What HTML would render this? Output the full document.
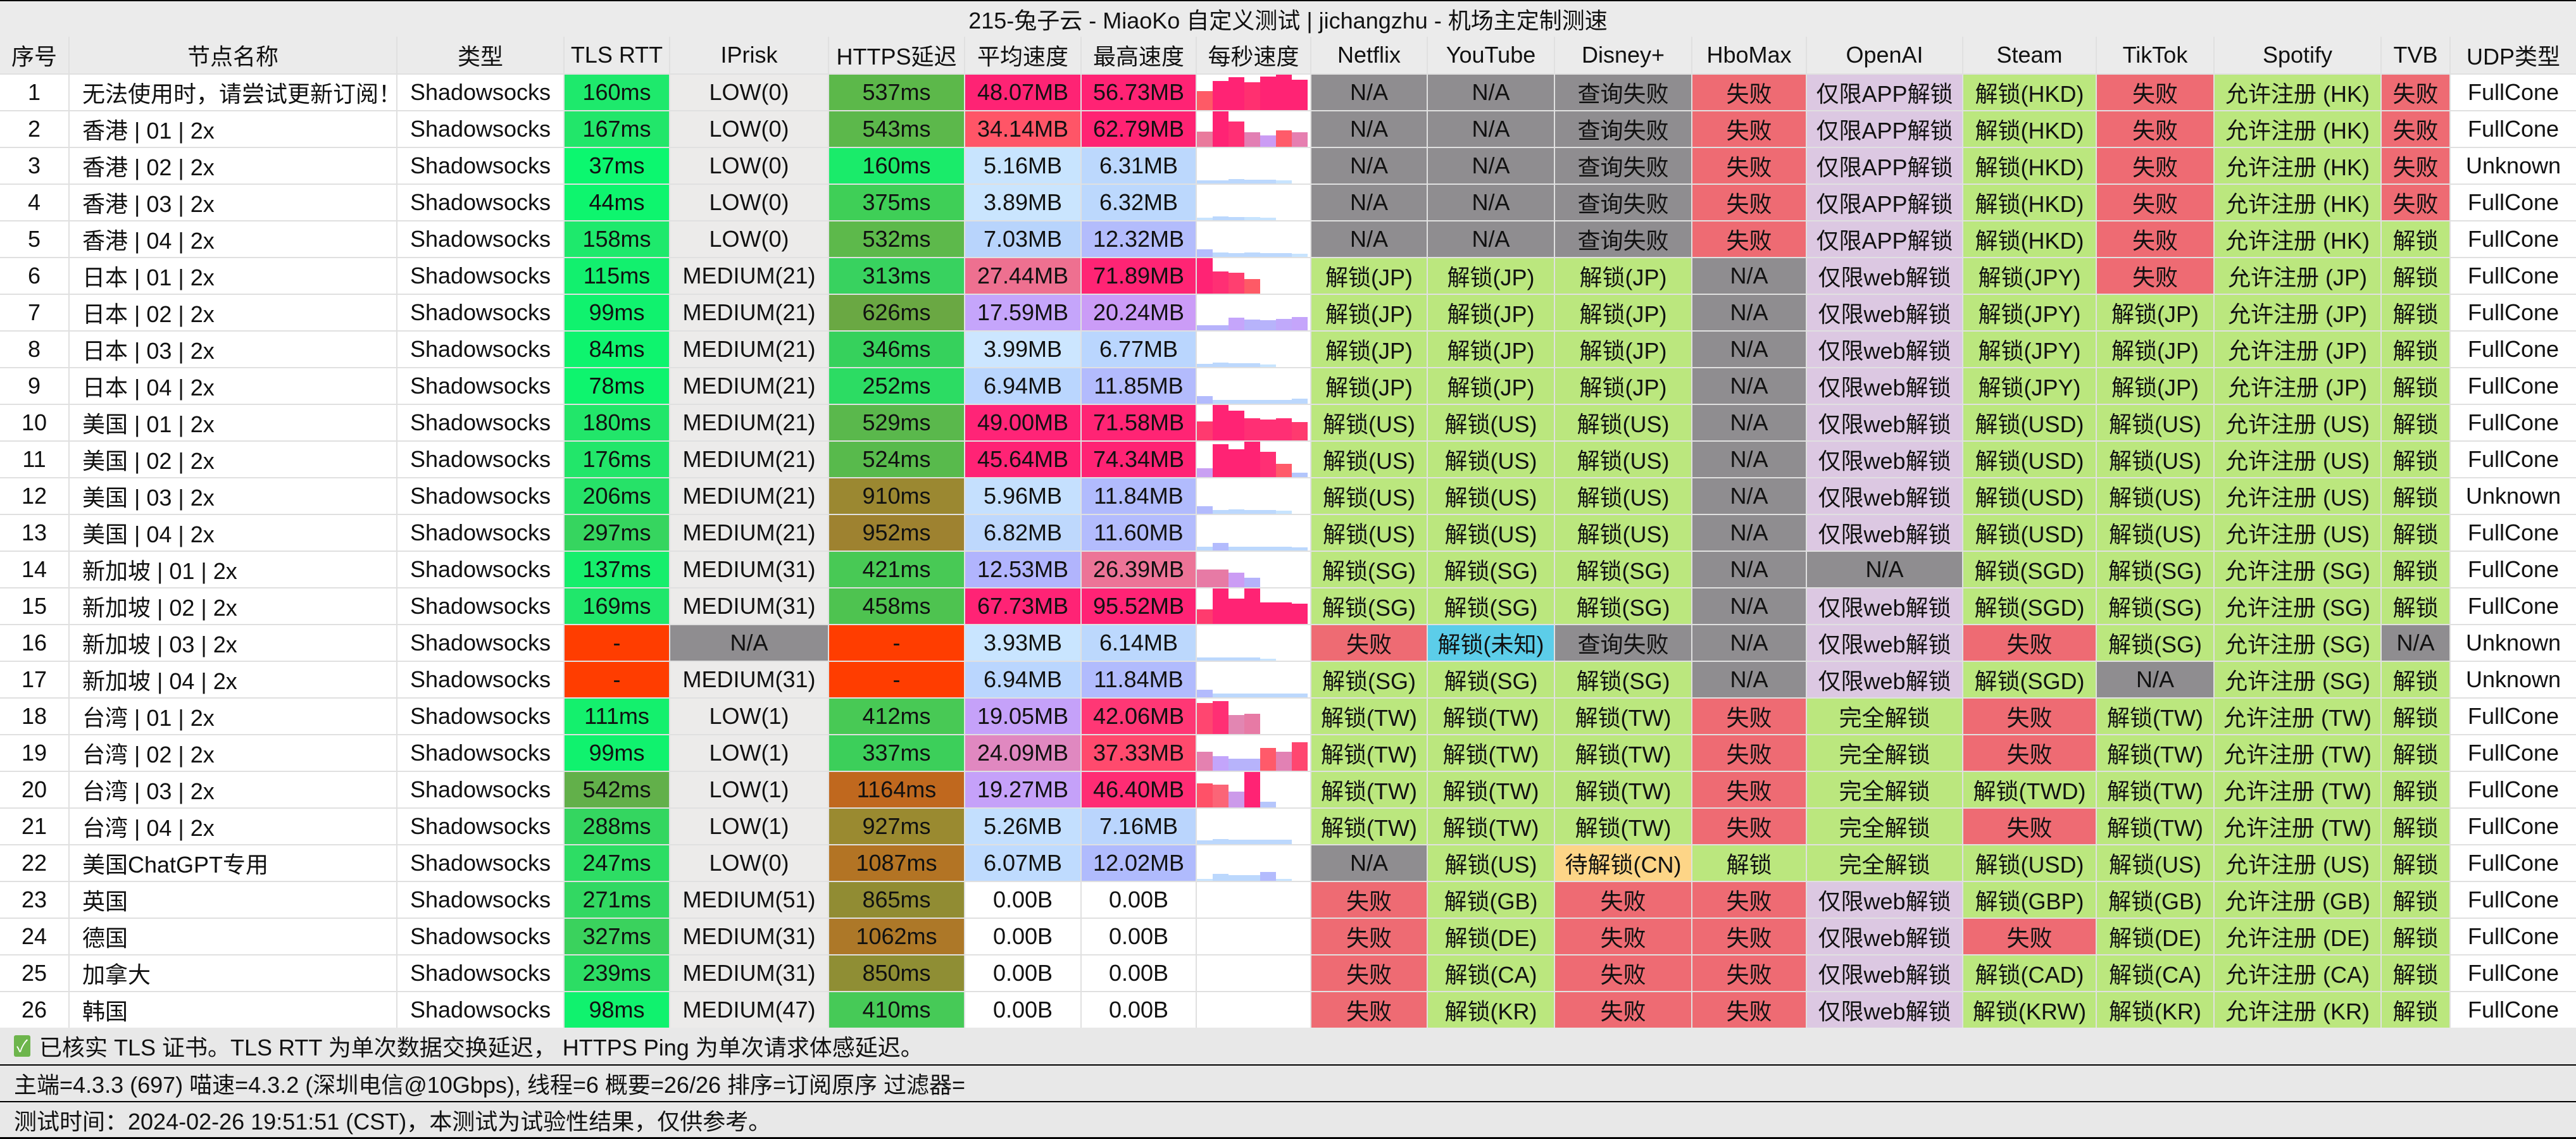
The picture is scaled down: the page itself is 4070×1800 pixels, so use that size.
<!DOCTYPE html>
<html><head><meta charset="utf-8"><style>
*{margin:0;padding:0;box-sizing:border-box}
body{width:4070px;height:1800px;background:#000;position:relative;overflow:hidden;font-family:"Liberation Sans","Noto Sans CJK SC",sans-serif;color:#111;font-size:36px}
.title{position:absolute;left:0;top:2px;width:4070px;height:56px;background:#ebebeb;display:flex;align-items:center;justify-content:center}
.grid{position:absolute;left:0;top:58px;width:4070px;display:grid;grid-template-columns:108px 516px 262px 165px 249px 213px 182px 180px 179px 182px 199px 215px 179px 245px 209px 184px 262px 107px 198px;grid-template-rows:58px repeat(26,56px);gap:2px;background:#e0e0e0}
.grid>div{display:flex;align-items:center;justify-content:center;white-space:nowrap;overflow:hidden;background:#fff;min-width:0}
.grid>div.h{background:#ebebeb}
.grid>div.n{justify-content:flex-start;padding-left:20px}
.grid>div.s{align-items:flex-end;justify-content:flex-start}
.s span{display:block;width:25px;flex:none}
.grid>div.g{background:#8f8d90}.grid>div.r{background:#ee6b73}.grid>div.p{background:#dcc8e2}.grid>div.G{background:#bbe77e}.grid>div.b{background:#5ccde9}.grid>div.y{background:#fdd587}.grid>div.i{background:#ecebea}
.ft{position:absolute;left:0;width:4070px;background:#e8e8e8;display:flex;align-items:center;padding-left:22px}
.ck{display:inline-block;width:26px;height:34px;background:#6db54c;color:#fff;font-size:26px;line-height:34px;text-align:center;border-radius:3px;margin-right:14px}
</style></head><body>
<div class="title">215-兔子云 - MiaoKo 自定义测试 | jichangzhu - 机场主定制测速</div>
<div class="grid">
<div class="h">序号</div><div class="h">节点名称</div><div class="h">类型</div><div class="h">TLS RTT</div><div class="h">IPrisk</div><div class="h">HTTPS延迟</div><div class="h">平均速度</div><div class="h">最高速度</div><div class="h">每秒速度</div><div class="h">Netflix</div><div class="h">YouTube</div><div class="h">Disney+</div><div class="h">HboMax</div><div class="h">OpenAI</div><div class="h">Steam</div><div class="h">TikTok</div><div class="h">Spotify</div><div class="h">TVB</div><div class="h">UDP类型</div>

<div>1</div><div class="n">无法使用时，请尝试更新订阅！</div><div>Shadowsocks</div><div style="background:#1ee96c">160ms</div><div class="i">LOW(0)</div><div style="background:#5cb84a">537ms</div><div style="background:#fe2374">48.07MB</div><div style="background:#ff2374">56.73MB</div>
<div class="s"><span style="height:30px;background:#fe5a66"></span><span style="height:46px;background:#ff2374"></span><span style="height:52px;background:#ff2374"></span><span style="height:44px;background:#ff3070"></span><span style="height:53px;background:#ff2374"></span><span style="height:56px;background:#ff2374"></span><span style="height:48px;background:#ff2374"></span></div>
<div class="g">N/A</div><div class="g">N/A</div><div class="g">查询失败</div><div class="r">失败</div><div class="p">仅限APP解锁</div><div class="G">解锁(HKD)</div><div class="r">失败</div><div class="G">允许注册 (HK)</div><div class="r">失败</div><div>FullCone</div>

<div>2</div><div class="n">香港 | 01 | 2x</div><div>Shadowsocks</div><div style="background:#22e66a">167ms</div><div class="i">LOW(0)</div><div style="background:#5cb84b">543ms</div><div style="background:#ff5567">34.14MB</div><div style="background:#ff2373">62.79MB</div>
<div class="s"><span style="height:24px;background:#e97a9c"></span><span style="height:56px;background:#ff2374"></span><span style="height:40px;background:#ff2f74"></span><span style="height:23px;background:#e27fb3"></span><span style="height:18px;background:#cb9cf4"></span><span style="height:26px;background:#ff5b6a"></span><span style="height:23px;background:#e67fb0"></span></div>
<div class="g">N/A</div><div class="g">N/A</div><div class="g">查询失败</div><div class="r">失败</div><div class="p">仅限APP解锁</div><div class="G">解锁(HKD)</div><div class="r">失败</div><div class="G">允许注册 (HK)</div><div class="r">失败</div><div>FullCone</div>

<div>3</div><div class="n">香港 | 02 | 2x</div><div>Shadowsocks</div><div style="background:#0cf76f">37ms</div><div class="i">LOW(0)</div><div style="background:#1aeb6a">160ms</div><div style="background:#c8e4fe">5.16MB</div><div style="background:#bcd8fd">6.31MB</div>
<div class="s"><span style="height:5px;background:#bcd8fd"></span><span style="height:5px;background:#bcd8fd"></span><span style="height:7px;background:#bcd8fd"></span><span style="height:6px;background:#bcd8fd"></span><span style="height:6px;background:#bcd8fd"></span><span style="height:5px;background:#c8e4fe"></span></div>
<div class="g">N/A</div><div class="g">N/A</div><div class="g">查询失败</div><div class="r">失败</div><div class="p">仅限APP解锁</div><div class="G">解锁(HKD)</div><div class="r">失败</div><div class="G">允许注册 (HK)</div><div class="r">失败</div><div>Unknown</div>

<div>4</div><div class="n">香港 | 03 | 2x</div><div>Shadowsocks</div><div style="background:#0ef56e">44ms</div><div class="i">LOW(0)</div><div style="background:#3fcf57">375ms</div><div style="background:#cae5fe">3.89MB</div><div style="background:#bcd8fd">6.32MB</div>
<div class="s"><span style="height:4px;background:#c8e4fe"></span><span style="height:6px;background:#bcd8fd"></span><span style="height:5px;background:#bcd8fd"></span><span style="height:5px;background:#c8e4fe"></span><span style="height:4px;background:#c8e4fe"></span></div>
<div class="g">N/A</div><div class="g">N/A</div><div class="g">查询失败</div><div class="r">失败</div><div class="p">仅限APP解锁</div><div class="G">解锁(HKD)</div><div class="r">失败</div><div class="G">允许注册 (HK)</div><div class="r">失败</div><div>FullCone</div>

<div>5</div><div class="n">香港 | 04 | 2x</div><div>Shadowsocks</div><div style="background:#1ee96c">158ms</div><div class="i">LOW(0)</div><div style="background:#5db94b">532ms</div><div style="background:#b8d4fc">7.03MB</div><div style="background:#b3bcfc">12.32MB</div>
<div class="s"><span style="height:12px;background:#b3bcfc"></span><span style="height:7px;background:#bcd8fd"></span><span style="height:6px;background:#bcd8fd"></span><span style="height:7px;background:#bcd8fd"></span><span style="height:6px;background:#bcd8fd"></span><span style="height:6px;background:#bcd8fd"></span><span style="height:5px;background:#c8e4fe"></span></div>
<div class="g">N/A</div><div class="g">N/A</div><div class="g">查询失败</div><div class="r">失败</div><div class="p">仅限APP解锁</div><div class="G">解锁(HKD)</div><div class="r">失败</div><div class="G">允许注册 (HK)</div><div class="G">解锁</div><div>FullCone</div>

<div>6</div><div class="n">日本 | 01 | 2x</div><div>Shadowsocks</div><div style="background:#12f06e">115ms</div><div class="i">MEDIUM(21)</div><div style="background:#38d25f">313ms</div><div style="background:#ee7090">27.44MB</div><div style="background:#ff2474">71.89MB</div>
<div class="s"><span style="height:56px;background:#ff2374"></span><span style="height:35px;background:#ff2f74"></span><span style="height:33px;background:#ff3f70"></span><span style="height:23px;background:#fe5a66"></span></div>
<div class="G">解锁(JP)</div><div class="G">解锁(JP)</div><div class="G">解锁(JP)</div><div class="g">N/A</div><div class="p">仅限web解锁</div><div class="G">解锁(JPY)</div><div class="r">失败</div><div class="G">允许注册 (JP)</div><div class="G">解锁</div><div>FullCone</div>

<div>7</div><div class="n">日本 | 02 | 2x</div><div>Shadowsocks</div><div style="background:#10f26e">99ms</div><div class="i">MEDIUM(21)</div><div style="background:#6aa843">626ms</div><div style="background:#c5a5fb">17.59MB</div><div style="background:#cb9cf7">20.24MB</div>
<div class="s"><span style="height:8px;background:#b7b3fb"></span><span style="height:8px;background:#b7b3fb"></span><span style="height:20px;background:#c5a5fb"></span><span style="height:17px;background:#b7b3fb"></span><span style="height:16px;background:#b7b3fb"></span><span style="height:18px;background:#c0a9fb"></span><span style="height:21px;background:#c5a5fb"></span></div>
<div class="G">解锁(JP)</div><div class="G">解锁(JP)</div><div class="G">解锁(JP)</div><div class="g">N/A</div><div class="p">仅限web解锁</div><div class="G">解锁(JPY)</div><div class="G">解锁(JP)</div><div class="G">允许注册 (JP)</div><div class="G">解锁</div><div>FullCone</div>

<div>8</div><div class="n">日本 | 03 | 2x</div><div>Shadowsocks</div><div style="background:#0ef46e">84ms</div><div class="i">MEDIUM(21)</div><div style="background:#36d15c">346ms</div><div style="background:#cce6ff">3.99MB</div><div style="background:#bad6fe">6.77MB</div>
<div class="s"><span style="height:5px;background:#bcd8fd"></span><span style="height:7px;background:#bcd8fd"></span><span style="height:6px;background:#bcd8fd"></span><span style="height:6px;background:#bcd8fd"></span><span style="height:4px;background:#c8e4fe"></span></div>
<div class="G">解锁(JP)</div><div class="G">解锁(JP)</div><div class="G">解锁(JP)</div><div class="g">N/A</div><div class="p">仅限web解锁</div><div class="G">解锁(JPY)</div><div class="G">解锁(JP)</div><div class="G">允许注册 (JP)</div><div class="G">解锁</div><div>FullCone</div>

<div>9</div><div class="n">日本 | 04 | 2x</div><div>Shadowsocks</div><div style="background:#0ef46e">78ms</div><div class="i">MEDIUM(21)</div><div style="background:#2cdc63">252ms</div><div style="background:#bad6fe">6.94MB</div><div style="background:#b3bbfd">11.85MB</div>
<div class="s"><span style="height:12px;background:#b3bbfd"></span><span style="height:6px;background:#bcd8fd"></span><span style="height:6px;background:#bcd8fd"></span><span style="height:6px;background:#bcd8fd"></span><span style="height:6px;background:#bcd8fd"></span><span style="height:6px;background:#bcd8fd"></span><span style="height:8px;background:#bcd8fd"></span></div>
<div class="G">解锁(JP)</div><div class="G">解锁(JP)</div><div class="G">解锁(JP)</div><div class="g">N/A</div><div class="p">仅限web解锁</div><div class="G">解锁(JPY)</div><div class="G">解锁(JP)</div><div class="G">允许注册 (JP)</div><div class="G">解锁</div><div>FullCone</div>

<div>10</div><div class="n">美国 | 01 | 2x</div><div>Shadowsocks</div><div style="background:#22e66a">180ms</div><div class="i">MEDIUM(21)</div><div style="background:#5ab84c">529ms</div><div style="background:#ff2477">49.00MB</div><div style="background:#ff2474">71.58MB</div>
<div class="s"><span style="height:30px;background:#ff3a6f"></span><span style="height:56px;background:#ff2374"></span><span style="height:47px;background:#ff2374"></span><span style="height:35px;background:#ff2f74"></span><span style="height:33px;background:#ff2f74"></span><span style="height:35px;background:#ff2f74"></span><span style="height:29px;background:#ff3a6f"></span></div>
<div class="G">解锁(US)</div><div class="G">解锁(US)</div><div class="G">解锁(US)</div><div class="g">N/A</div><div class="p">仅限web解锁</div><div class="G">解锁(USD)</div><div class="G">解锁(US)</div><div class="G">允许注册 (US)</div><div class="G">解锁</div><div>FullCone</div>

<div>11</div><div class="n">美国 | 02 | 2x</div><div>Shadowsocks</div><div style="background:#22e66a">176ms</div><div class="i">MEDIUM(21)</div><div style="background:#58ba4c">524ms</div><div style="background:#ff2375">45.64MB</div><div style="background:#ff2374">74.34MB</div>
<div class="s"><span style="height:14px;background:#c9a0f3"></span><span style="height:52px;background:#ff2374"></span><span style="height:44px;background:#ff2374"></span><span style="height:56px;background:#ff2374"></span><span style="height:40px;background:#ff2f74"></span><span style="height:21px;background:#ff5b6a"></span><span style="height:7px;background:#b3c6fc"></span></div>
<div class="G">解锁(US)</div><div class="G">解锁(US)</div><div class="G">解锁(US)</div><div class="g">N/A</div><div class="p">仅限web解锁</div><div class="G">解锁(USD)</div><div class="G">解锁(US)</div><div class="G">允许注册 (US)</div><div class="G">解锁</div><div>FullCone</div>

<div>12</div><div class="n">美国 | 03 | 2x</div><div>Shadowsocks</div><div style="background:#26e268">206ms</div><div class="i">MEDIUM(21)</div><div style="background:#9b8831">910ms</div><div style="background:#c5e0fe">5.96MB</div><div style="background:#b1bbfd">11.84MB</div>
<div class="s"><span style="height:12px;background:#b3bbfd"></span><span style="height:6px;background:#bcd8fd"></span><span style="height:7px;background:#bcd8fd"></span><span style="height:6px;background:#bcd8fd"></span><span style="height:6px;background:#bcd8fd"></span><span style="height:5px;background:#c8e4fe"></span></div>
<div class="G">解锁(US)</div><div class="G">解锁(US)</div><div class="G">解锁(US)</div><div class="g">N/A</div><div class="p">仅限web解锁</div><div class="G">解锁(USD)</div><div class="G">解锁(US)</div><div class="G">允许注册 (US)</div><div class="G">解锁</div><div>Unknown</div>

<div>13</div><div class="n">美国 | 04 | 2x</div><div>Shadowsocks</div><div style="background:#36d55f">297ms</div><div class="i">MEDIUM(21)</div><div style="background:#9e8230">952ms</div><div style="background:#bed8fd">6.82MB</div><div style="background:#b3bcfd">11.60MB</div>
<div class="s"><span style="height:6px;background:#bcd8fd"></span><span style="height:12px;background:#b3bbfd"></span><span style="height:6px;background:#bcd8fd"></span><span style="height:6px;background:#bcd8fd"></span><span style="height:6px;background:#bcd8fd"></span><span style="height:6px;background:#bcd8fd"></span><span style="height:5px;background:#bcd8fd"></span></div>
<div class="G">解锁(US)</div><div class="G">解锁(US)</div><div class="G">解锁(US)</div><div class="g">N/A</div><div class="p">仅限web解锁</div><div class="G">解锁(USD)</div><div class="G">解锁(US)</div><div class="G">允许注册 (US)</div><div class="G">解锁</div><div>FullCone</div>

<div>14</div><div class="n">新加坡 | 01 | 2x</div><div>Shadowsocks</div><div style="background:#16ee6c">137ms</div><div class="i">MEDIUM(31)</div><div style="background:#48c955">421ms</div><div style="background:#b1b4fd">12.53MB</div><div style="background:#ec7497">26.39MB</div>
<div class="s"><span style="height:28px;background:#e77aa5"></span><span style="height:28px;background:#e77aa5"></span><span style="height:23px;background:#cb9cf4"></span><span style="height:15px;background:#b5b3fb"></span></div>
<div class="G">解锁(SG)</div><div class="G">解锁(SG)</div><div class="G">解锁(SG)</div><div class="g">N/A</div><div class="g">N/A</div><div class="G">解锁(SGD)</div><div class="G">解锁(SG)</div><div class="G">允许注册 (SG)</div><div class="G">解锁</div><div>FullCone</div>

<div>15</div><div class="n">新加坡 | 02 | 2x</div><div>Shadowsocks</div><div style="background:#20e76b">169ms</div><div class="i">MEDIUM(31)</div><div style="background:#4ec350">458ms</div><div style="background:#ff2375">67.73MB</div><div style="background:#ff2375">95.52MB</div>
<div class="s"><span style="height:23px;background:#ff3b6e"></span><span style="height:56px;background:#ff2374"></span><span style="height:40px;background:#ff2374"></span><span style="height:56px;background:#ff2374"></span><span style="height:34px;background:#ff2374"></span><span style="height:34px;background:#ff2374"></span><span style="height:32px;background:#ff2374"></span></div>
<div class="G">解锁(SG)</div><div class="G">解锁(SG)</div><div class="G">解锁(SG)</div><div class="g">N/A</div><div class="p">仅限web解锁</div><div class="G">解锁(SGD)</div><div class="G">解锁(SG)</div><div class="G">允许注册 (SG)</div><div class="G">解锁</div><div>FullCone</div>

<div>16</div><div class="n">新加坡 | 03 | 2x</div><div>Shadowsocks</div><div style="background:#ff3d00">-</div><div class="g">N/A</div><div style="background:#ff3d00">-</div><div style="background:#c9e5ff">3.93MB</div><div style="background:#bcd8fd">6.14MB</div>
<div class="s"><span style="height:5px;background:#bcd8fd"></span><span style="height:5px;background:#bcd8fd"></span><span style="height:5px;background:#bcd8fd"></span><span style="height:5px;background:#bcd8fd"></span><span style="height:3px;background:#c8e4fe"></span></div>
<div class="r">失败</div><div class="b">解锁(未知)</div><div class="g">查询失败</div><div class="g">N/A</div><div class="p">仅限web解锁</div><div class="r">失败</div><div class="G">解锁(SG)</div><div class="G">允许注册 (SG)</div><div class="g">N/A</div><div>Unknown</div>

<div>17</div><div class="n">新加坡 | 04 | 2x</div><div>Shadowsocks</div><div style="background:#ff3d00">-</div><div class="i">MEDIUM(31)</div><div style="background:#ff3d00">-</div><div style="background:#bad6fe">6.94MB</div><div style="background:#b1bbfd">11.84MB</div>
<div class="s"><span style="height:12px;background:#b3bbfd"></span><span style="height:6px;background:#bcd8fd"></span><span style="height:6px;background:#bcd8fd"></span><span style="height:6px;background:#bcd8fd"></span><span style="height:6px;background:#bcd8fd"></span><span style="height:6px;background:#bcd8fd"></span><span style="height:6px;background:#bcd8fd"></span></div>
<div class="G">解锁(SG)</div><div class="G">解锁(SG)</div><div class="G">解锁(SG)</div><div class="g">N/A</div><div class="p">仅限web解锁</div><div class="G">解锁(SGD)</div><div class="g">N/A</div><div class="G">允许注册 (SG)</div><div class="G">解锁</div><div>Unknown</div>

<div>18</div><div class="n">台湾 | 01 | 2x</div><div>Shadowsocks</div><div style="background:#14f06d">111ms</div><div class="i">LOW(1)</div><div style="background:#48c955">412ms</div><div style="background:#c5a1f9">19.05MB</div><div style="background:#ff3775">42.06MB</div>
<div class="s"><span style="height:49px;background:#ff4670"></span><span style="height:52px;background:#ff2f74"></span><span style="height:30px;background:#e286b2"></span><span style="height:32px;background:#e77aa5"></span></div>
<div class="G">解锁(TW)</div><div class="G">解锁(TW)</div><div class="G">解锁(TW)</div><div class="r">失败</div><div class="G">完全解锁</div><div class="r">失败</div><div class="G">解锁(TW)</div><div class="G">允许注册 (TW)</div><div class="G">解锁</div><div>FullCone</div>

<div>19</div><div class="n">台湾 | 02 | 2x</div><div>Shadowsocks</div><div style="background:#10f26e">99ms</div><div class="i">LOW(1)</div><div style="background:#3ccf5a">337ms</div><div style="background:#e088c0">24.09MB</div><div style="background:#ff4a6d">37.33MB</div>
<div class="s"><span style="height:30px;background:#e481b0"></span><span style="height:23px;background:#c3a5fb"></span><span style="height:19px;background:#b7b3fb"></span><span style="height:19px;background:#b7b3fb"></span><span style="height:36px;background:#ff5a6a"></span><span style="height:30px;background:#e281b4"></span><span style="height:45px;background:#ff4670"></span></div>
<div class="G">解锁(TW)</div><div class="G">解锁(TW)</div><div class="G">解锁(TW)</div><div class="r">失败</div><div class="G">完全解锁</div><div class="r">失败</div><div class="G">解锁(TW)</div><div class="G">允许注册 (TW)</div><div class="G">解锁</div><div>FullCone</div>

<div>20</div><div class="n">台湾 | 03 | 2x</div><div>Shadowsocks</div><div style="background:#62b04a">542ms</div><div class="i">LOW(1)</div><div style="background:#c0681e">1164ms</div><div style="background:#c5a1f9">19.27MB</div><div style="background:#ff2c74">46.40MB</div>
<div class="s"><span style="height:38px;background:#ff5168"></span><span style="height:36px;background:#fb6577"></span><span style="height:25px;background:#cc9aea"></span><span style="height:56px;background:#ff2374"></span><span style="height:9px;background:#b6c6fc"></span></div>
<div class="G">解锁(TW)</div><div class="G">解锁(TW)</div><div class="G">解锁(TW)</div><div class="r">失败</div><div class="G">完全解锁</div><div class="G">解锁(TWD)</div><div class="G">解锁(TW)</div><div class="G">允许注册 (TW)</div><div class="G">解锁</div><div>FullCone</div>

<div>21</div><div class="n">台湾 | 04 | 2x</div><div>Shadowsocks</div><div style="background:#34d660">288ms</div><div class="i">LOW(1)</div><div style="background:#9a8a30">927ms</div><div style="background:#c3dffe">5.26MB</div><div style="background:#bad5fd">7.16MB</div>
<div class="s"><span style="height:6px;background:#bcd8fd"></span><span style="height:8px;background:#bcd8fd"></span><span style="height:7px;background:#bcd8fd"></span><span style="height:7px;background:#bcd8fd"></span><span style="height:7px;background:#bcd8fd"></span><span style="height:7px;background:#bcd8fd"></span></div>
<div class="G">解锁(TW)</div><div class="G">解锁(TW)</div><div class="G">解锁(TW)</div><div class="r">失败</div><div class="G">完全解锁</div><div class="r">失败</div><div class="G">解锁(TW)</div><div class="G">允许注册 (TW)</div><div class="G">解锁</div><div>FullCone</div>

<div>22</div><div class="n">美国ChatGPT专用</div><div>Shadowsocks</div><div style="background:#2ddd64">247ms</div><div class="i">LOW(0)</div><div style="background:#b37424">1087ms</div><div style="background:#bfdbfe">6.07MB</div><div style="background:#b0bbfd">12.02MB</div>
<div class="s"><span style="height:3px;background:#c8e4fe"></span><span style="height:11px;background:#bcd8fd"></span><span style="height:9px;background:#bcd8fd"></span><span style="height:9px;background:#bcd8fd"></span><span style="height:14px;background:#b3bbfd"></span><span style="height:3px;background:#c8e4fe"></span></div>
<div class="g">N/A</div><div class="G">解锁(US)</div><div class="y">待解锁(CN)</div><div class="G">解锁</div><div class="G">完全解锁</div><div class="G">解锁(USD)</div><div class="G">解锁(US)</div><div class="G">允许注册 (US)</div><div class="G">解锁</div><div>FullCone</div>

<div>23</div><div class="n">英国</div><div>Shadowsocks</div><div style="background:#32d862">271ms</div><div class="i">MEDIUM(51)</div><div style="background:#918c33">865ms</div><div>0.00B</div><div>0.00B</div><div class="s"></div>
<div class="r">失败</div><div class="G">解锁(GB)</div><div class="r">失败</div><div class="r">失败</div><div class="p">仅限web解锁</div><div class="G">解锁(GBP)</div><div class="G">解锁(GB)</div><div class="G">允许注册 (GB)</div><div class="G">解锁</div><div>FullCone</div>

<div>24</div><div class="n">德国</div><div>Shadowsocks</div><div style="background:#3ad25d">327ms</div><div class="i">MEDIUM(31)</div><div style="background:#ad7828">1062ms</div><div>0.00B</div><div>0.00B</div><div class="s"></div>
<div class="r">失败</div><div class="G">解锁(DE)</div><div class="r">失败</div><div class="r">失败</div><div class="p">仅限web解锁</div><div class="r">失败</div><div class="G">解锁(DE)</div><div class="G">允许注册 (DE)</div><div class="G">解锁</div><div>FullCone</div>

<div>25</div><div class="n">加拿大</div><div>Shadowsocks</div><div style="background:#2cdd64">239ms</div><div class="i">MEDIUM(31)</div><div style="background:#8f8e34">850ms</div><div>0.00B</div><div>0.00B</div><div class="s"></div>
<div class="r">失败</div><div class="G">解锁(CA)</div><div class="r">失败</div><div class="r">失败</div><div class="p">仅限web解锁</div><div class="G">解锁(CAD)</div><div class="G">解锁(CA)</div><div class="G">允许注册 (CA)</div><div class="G">解锁</div><div>FullCone</div>

<div>26</div><div class="n">韩国</div><div>Shadowsocks</div><div style="background:#10f26e">98ms</div><div class="i">MEDIUM(47)</div><div style="background:#46ca57">410ms</div><div>0.00B</div><div>0.00B</div><div class="s"></div>
<div class="r">失败</div><div class="G">解锁(KR)</div><div class="r">失败</div><div class="r">失败</div><div class="p">仅限web解锁</div><div class="G">解锁(KRW)</div><div class="G">解锁(KR)</div><div class="G">允许注册 (KR)</div><div class="G">解锁</div><div>FullCone</div>
</div>
<div class="ft" style="top:1624px;height:58px"><span class="ck">✓</span>已核实 TLS 证书。TLS RTT 为单次数据交换延迟， HTTPS Ping 为单次请求体感延迟。</div>
<div class="ft" style="top:1684px;height:56px">主端=4.3.3 (697) 喵速=4.3.2 (深圳电信@10Gbps), 线程=6 概要=26/26 排序=订阅原序 过滤器=</div>
<div class="ft" style="top:1742px;height:55px">测试时间：2024-02-26 19:51:51 (CST)，本测试为试验性结果，仅供参考。</div>
</body></html>
